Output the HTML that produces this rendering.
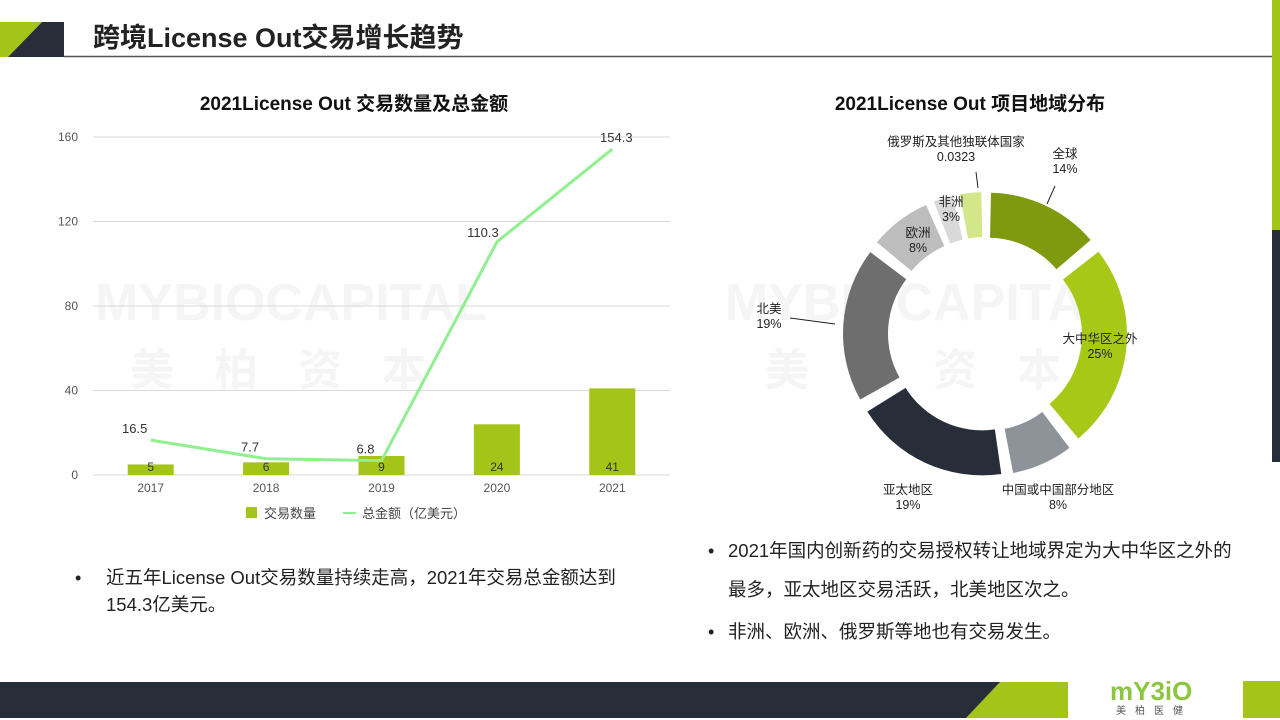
<!DOCTYPE html>
<html><head><meta charset="utf-8"><style>
body{margin:0;width:1280px;height:720px;overflow:hidden;background:#fff;font-family:"Liberation Sans","Noto Sans CJK SC",sans-serif;position:relative}
.abs{position:absolute}
</style></head><body>
<svg class="abs" style="left:0;top:0" width="1280" height="720">
  <polygon points="0,22 42,22 8,57 0,57" fill="#a5c41a"/>
  <polygon points="42,22 64,22 64,57 8,57" fill="#272e3a"/>
  <line x1="64" y1="56.5" x2="1280" y2="56.5" stroke="#555" stroke-width="1.5"/>
  <text x="93" y="47" font-size="27" font-weight="bold" fill="#222">跨境License Out交易增长趋势</text>
  <rect x="1272" y="0" width="8" height="230" fill="#a5c41a"/>
  <rect x="1272" y="230" width="8" height="232" fill="#272e3a"/>
  <rect x="0" y="682" width="1000" height="36" fill="#272e3a"/>
  <polygon points="1000,682 1068,682 1068,718 966,718" fill="#a5c41a"/>
  <rect x="1243" y="681" width="37" height="37" fill="#a5c41a"/>
  <text x="1110" y="700" font-size="26" font-weight="bold" fill="#8cc63f">mY3iO</text>
  <text x="1116" y="714" font-size="10" fill="#555" letter-spacing="9">美柏医健</text>
  <text x="95" y="320" font-size="52" font-weight="bold" fill="#f5f5f5">MYBIOCAPITAL</text>
  <text x="130" y="385" font-size="44" font-weight="bold" fill="#f5f5f5" letter-spacing="40">美柏资本</text>
  <text x="725" y="320" font-size="52" font-weight="bold" fill="#f5f5f5">MYBIOCAPITAL</text>
  <text x="765" y="385" font-size="44" font-weight="bold" fill="#f5f5f5" letter-spacing="40">美柏资本</text>
  <text x="354" y="110" font-size="19" font-weight="bold" text-anchor="middle" fill="#111">2021License Out 交易数量及总金额</text>
  <text x="970" y="110" font-size="19" font-weight="bold" text-anchor="middle" fill="#111">2021License Out 项目地域分布</text>
  <g id="combo"></g>
  <g id="donut"></g>
  <rect x="246" y="507" width="11" height="11" fill="#a5c41a"/>
  <text x="264" y="518" font-size="13" fill="#444">交易数量</text>
  <line x1="343" y1="513" x2="356" y2="513" stroke="#90f090" stroke-width="2"/>
  <text x="362" y="518" font-size="13" fill="#444">总金额（亿美元）</text>
  <text x="75" y="584" font-size="18" fill="#222">•</text>
  <text x="106" y="584" font-size="18.5" fill="#222">近五年License Out交易数量持续走高，2021年交易总金额达到</text>
  <text x="106" y="611" font-size="18.5" fill="#222">154.3亿美元。</text>
  <text x="708" y="557" font-size="18" fill="#222">•</text>
  <text x="728" y="557" font-size="18.5" fill="#222">2021年国内创新药的交易授权转让地域界定为大中华区之外的</text>
  <text x="728" y="596" font-size="18.5" fill="#222">最多，亚太地区交易活跃，北美地区次之。</text>
  <text x="708" y="638" font-size="18" fill="#222">•</text>
  <text x="728" y="638" font-size="18.5" fill="#222">非洲、欧洲、俄罗斯等地也有交易发生。</text>
</svg>
<script>
const years=["2017","2018","2019","2020","2021"];
const dealCounts=[5,6,9,24,41];
const totalAmounts=[16.5,7.7,6.8,110.3,154.3];
const yTicks=[0,40,80,120,160];
const regions=["全球","大中华区之外","中国或中国部分地区","亚太地区","北美","欧洲","非洲","俄罗斯及其他独联体国家"];
const shares=[14,25,8,19,19,8,3,3.23];
const shareLabels=["14%","25%","8%","19%","19%","8%","3%","0.0323"];
const NS="http://www.w3.org/2000/svg";
function mk(tag,attrs,parent,txt){const e=document.createElementNS(NS,tag);for(const k in attrs)e.setAttribute(k,attrs[k]);if(txt!=null)e.textContent=txt;parent.appendChild(e);return e;}
const g=document.getElementById('combo');
const x0=93,x1=670,yb=475,yt=137,vmax=160;
const yS=v=>yb-(v/vmax)*(yb-yt);
const bw=(x1-x0)/years.length;
const xS=i=>x0+bw*(i+0.5);
yTicks.forEach(t=>{
  const l=mk('line',{x1:x0,x2:x1,y1:yS(t),y2:yS(t),stroke:'#d9d9d9','stroke-width':1},g);
  
  
  const tx=mk('text',{x:78,y:yS(t)+4,'font-size':12,fill:'#555','text-anchor':'end'},g,String(t));
  
  
});
years.forEach((y,i)=>{
  const h=yb-yS(dealCounts[i]);
  const r=mk('rect',{x:xS(i)-23,y:yS(dealCounts[i]),width:46,height:h,fill:'#a5c41a'},g);
  
  
  const bl=mk('text',{x:xS(i),y:yb-4,'font-size':12,fill:'#333','text-anchor':'middle'},g,String(dealCounts[i]));
  
  
  const xl=mk('text',{x:xS(i),y:492,'font-size':12,fill:'#555','text-anchor':'middle'},g,y);
  
  
});
const pts=totalAmounts.map((v,i)=>xS(i)+','+yS(v)).join(' ');
const pl=mk('polyline',{points:pts,fill:'none',stroke:'#90f090','stroke-width':3},g);


totalAmounts.forEach((v,i)=>{
  const t=mk('text',{x:xS(i)-(i==3?14:i==4?-4:16),y:yS(v)-(i==3?5:7),'font-size':13,fill:'#333','text-anchor':'middle'},g,String(v));
  
  
});
const d=document.getElementById('donut');
const cx=985,cy=334,R=135,r0=90,gap=0.045,off=7;
const total=shares.reduce((a,b)=>a+b,0);
let a=0;
const pol=(rad,ang,ox,oy)=>[cx+ox+rad*Math.sin(ang),cy+oy-rad*Math.cos(ang)];
const colors=['#7f9a0e','#a8c818','#8e9399','#272e3a','#6e6e6e','#bdbdbd','#d9d9d9','#d4e68a'];
shares.forEach((s,i)=>{
  const sw=s/total*2*Math.PI;
  const a1=a+gap/2,a2=a+sw-gap/2,mid=a+sw/2;
  const ox=off*Math.sin(mid),oy=-off*Math.cos(mid);
  const p1=pol(R,a1,ox,oy),p2=pol(R,a2,ox,oy),p3=pol(r0,a2,ox,oy),p4=pol(r0,a1,ox,oy);
  const lg=(a2-a1)>Math.PI?1:0;
  const path=`M${p1}A${R},${R} 0 ${lg} 1 ${p2}L${p3}A${r0},${r0} 0 ${lg} 0 ${p4}Z`;
  const p=mk('path',{d:path,fill:colors[i]},d);
  
  
  a+=sw;
});
const labels=[[1065,158,'全球'],[1100,343,'大中华区之外'],[1058,494,'中国或中国部分地区'],[908,494,'亚太地区'],[769,313,'北美'],[918,237,'欧洲'],[951,206,'非洲'],[956,146,'俄罗斯及其他独联体国家']];
labels.forEach((L,i)=>{
  const t=mk('text',{x:L[0],y:L[1],'font-size':12.5,fill:'#222','text-anchor':'middle'},d);
  mk('tspan',{x:L[0],dy:0},t,L[2]);
  mk('tspan',{x:L[0],dy:15},t,shareLabels[i]);
  
  
});
[[1047,204,1055,186],[978,188,976,172],[790,318,835,324]].forEach(c=>{
  const l=mk('line',{x1:c[0],y1:c[1],x2:c[2],y2:c[3],stroke:'#222','stroke-width':1},d);
  
  
});
</script>
</body></html>
